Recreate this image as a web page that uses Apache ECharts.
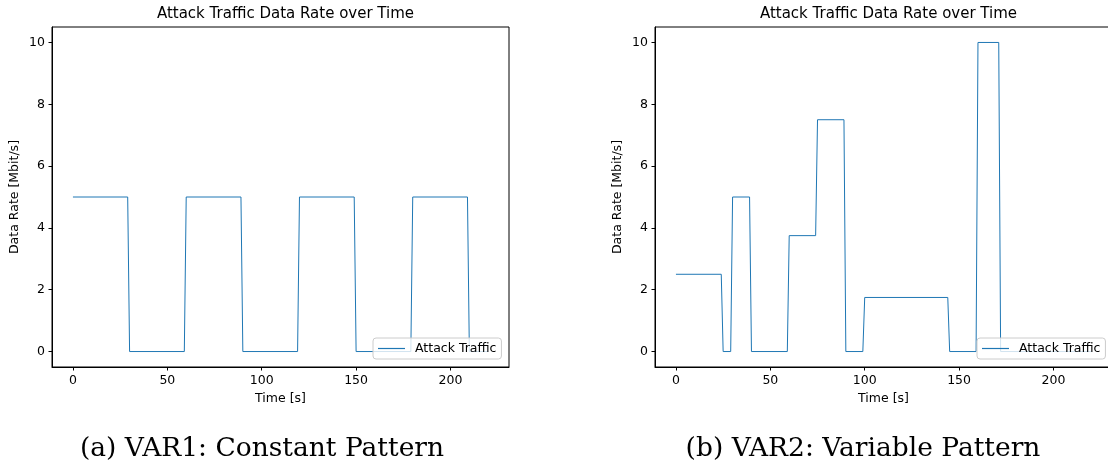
<!DOCTYPE html>
<html>
<head>
<meta charset="utf-8">
<script src="https://cdn.jsdelivr.net/npm/echarts@6/dist/echarts.min.js"></script>
<style>
  html, body { margin: 0; padding: 0; background: #fff; overflow: hidden; }
  #chart { width: 1114px; height: 466px; }
</style>
</head>
<body>
<div id="chart"></div>
<script>
// VAR1: constant pattern (time in s, rate in Mbit/s)
const var1Time = [0, 29, 30, 59, 60, 89, 90, 119, 120, 149, 150, 179, 180, 209, 210, 220]
const var1Rate = [5.0, 5.0, 0, 0, 5.0, 5.0, 0, 0, 5.0, 5.0, 0, 0, 5.0, 5.0, 0, 0]

// VAR2: variable pattern
const var2Time = [0, 24, 25, 29, 30, 39, 40, 59, 60, 74, 75, 89, 90, 99, 100, 144, 145, 159, 160, 171, 172, 220]
const var2Rate = [2.5, 2.5, 0, 0, 5.0, 5.0, 0, 0, 3.75, 3.75, 7.5, 7.5, 0, 0, 1.75, 1.75, 0, 0, 10.0, 10.0, 0, 0]

const xTicks = [0, 50, 100, 150, 200]
const yTicks = [0, 2, 4, 6, 8, 10]
const plotTitle = 'Attack Traffic Data Rate over Time'
const captions = ['(a) VAR1: Constant Pattern', '(b) VAR2: Variable Pattern']

const sans = 'DejaVu Sans'
const lineColor = '#1f77b4'

const grids = [
  { left: 52, top: 27, width: 457, height: 340 },
  { left: 655, top: 27, width: 457, height: 340 }
]

function xAxisFor(i) {
  return {
    type: 'value', gridIndex: i, min: -11.1, max: 231,
    name: 'Time [s]', nameLocation: 'middle', nameGap: 25,
    nameTextStyle: { color: '#000', fontFamily: sans, fontSize: 12.5 },
    axisLine: { show: true, onZero: false, lineStyle: { color: '#000', width: 1 } },
    axisTick: { show: true, length: 3.5, customValues: xTicks, lineStyle: { color: '#000' } },
    axisLabel: { customValues: xTicks, color: '#000', fontFamily: sans, fontSize: 12.5, margin: 7 },
    splitLine: { show: false }
  }
}

function yAxisFor(i) {
  return {
    type: 'value', gridIndex: i, min: -0.5, max: 10.5,
    name: 'Data Rate [Mbit/s]', nameLocation: 'middle', nameGap: 31,
    nameTextStyle: { color: '#000', fontFamily: sans, fontSize: 12.5 },
    axisLine: { show: true, onZero: false, lineStyle: { color: '#000', width: 1 } },
    axisTick: { show: true, length: 3.5, customValues: yTicks, lineStyle: { color: '#000' } },
    axisLabel: { customValues: yTicks, color: '#000', fontFamily: sans, fontSize: 12.5, margin: 7 },
    splitLine: { show: false }
  }
}

function legendAt(left) {
  return {
    left: left, top: 338, orient: 'horizontal',
    data: ['Attack Traffic'],
    icon: 'rect', itemWidth: 27, itemHeight: 1.2,
    padding: [4, 5, 4, 5],
    backgroundColor: 'rgba(255,255,255,0.8)',
    borderColor: '#cccccc', borderWidth: 1, borderRadius: 3,
    textStyle: { color: '#000', fontFamily: sans, fontSize: 12.5, padding: [0, 0, 0, 5] }
  }
}

const chart = echarts.init(document.getElementById('chart'))
chart.setOption({
  animation: false,
  backgroundColor: '#fff',
  title: [
    { text: plotTitle, left: 280.5, top: 2, textAlign: 'center', textStyle: { fontFamily: sans, fontSize: 15, fontWeight: 'normal', color: '#000' } },
    { text: plotTitle, left: 883.5, top: 2, textAlign: 'center', textStyle: { fontFamily: sans, fontSize: 15, fontWeight: 'normal', color: '#000' } },
    { text: captions[0], left: 257, top: 431, textAlign: 'center', textStyle: { fontFamily: 'DejaVu Serif', fontSize: 26.5, fontWeight: 'normal', color: '#000' } },
    { text: captions[1], left: 858, top: 431, textAlign: 'center', textStyle: { fontFamily: 'DejaVu Serif', fontSize: 26.5, fontWeight: 'normal', color: '#000' } }
  ],
  grid: grids.map(g => Object.assign({ show: true, borderColor: '#000', borderWidth: 1, backgroundColor: 'transparent' }, g)),
  xAxis: [xAxisFor(0), xAxisFor(1)],
  yAxis: [yAxisFor(0), yAxisFor(1)],
  legend: [legendAt(373), legendAt(977)],
  series: [
    {
      name: 'Attack Traffic', type: 'line', xAxisIndex: 0, yAxisIndex: 0,
      data: var1Time.map((t, k) => [t, var1Rate[k]]),
      symbol: 'none', lineStyle: { color: lineColor, width: 1 }, itemStyle: { color: lineColor }
    },
    {
      name: 'Attack Traffic', type: 'line', xAxisIndex: 1, yAxisIndex: 1,
      data: var2Time.map((t, k) => [t, var2Rate[k]]),
      symbol: 'none', lineStyle: { color: lineColor, width: 1 }, itemStyle: { color: lineColor }
    }
  ]
})
</script>
</body>
</html>
